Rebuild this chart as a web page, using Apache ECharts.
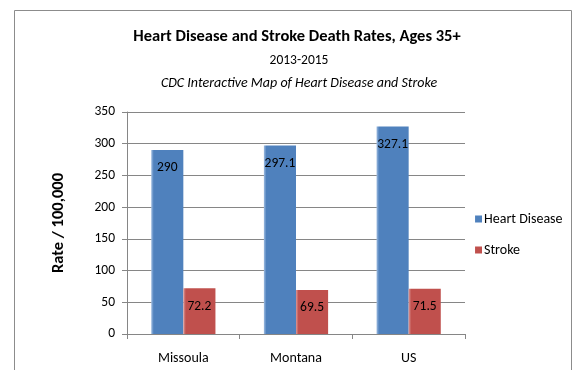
<!DOCTYPE html>
<html>
<head>
<meta charset="utf-8">
<script src="https://cdn.jsdelivr.net/npm/echarts@6/dist/echarts.min.js"></script>
<style>
  html, body { margin: 0; padding: 0; background: #fff; }
  #chart { width: 577px; height: 370px; }
</style>
</head>
<body>
<div id="chart"></div>
<script>
// Death rates per 100,000, ages 35+, 2013-2015
const categories = ['Missoula', 'Montana', 'US'];
const heartDisease = [290, 297.1, 327.1];
const stroke = [72.2, 69.5, 71.5];
const seriesNames = ['Heart Disease', 'Stroke'];

const FONT = 'Carlito, Lato, "Liberation Sans", sans-serif';

const chart = echarts.init(document.getElementById('chart'), null, { renderer: 'canvas' });

function barColor(base, light) {
  return new echarts.graphic.LinearGradient(0, 0, 1, 0, [
    { offset: 0, color: light },
    { offset: 0.08, color: base },
    { offset: 1, color: base }
  ]);
}

const labelStyle = {
  show: true,
  position: 'insideTop',
  distance: 11,
  color: '#000',
  fontFamily: FONT,
  fontSize: 13.5
};

chart.setOption({
  backgroundColor: '#fff',
  animation: false,
  textStyle: { fontFamily: FONT },
  graphic: [{
    type: 'rect',
    shape: { x: 14.5, y: 10.5, width: 557, height: 380 },
    style: { fill: 'none', stroke: '#8c8c8c', lineWidth: 1 },
    silent: true
  }],
  title: [
    {
      text: 'Heart Disease and Stroke Death Rates, Ages 35+',
      left: 292, top: 23, textAlign: 'center',
      textStyle: { fontFamily: FONT, fontSize: 16.5, fontWeight: 'bold', color: '#000' }
    },
    {
      text: '2013-2015',
      left: 294, top: 49, textAlign: 'center',
      textStyle: { fontFamily: FONT, fontSize: 13.5, fontWeight: 'normal', color: '#000' }
    },
    {
      text: 'CDC Interactive Map of Heart Disease and Stroke',
      left: 294, top: 71, textAlign: 'center',
      textStyle: { fontFamily: FONT, fontSize: 14, fontStyle: 'italic', fontWeight: 'normal', color: '#000' }
    }
  ],
  legend: {
    orient: 'vertical',
    left: 470, top: 207,
    itemWidth: 7, itemHeight: 7, itemGap: 17,
    icon: 'rect',
    data: seriesNames,
    textStyle: { fontFamily: FONT, fontSize: 14, color: '#000', padding: [0, 0, 0, -3] }
  },
  grid: { left: 127, right: 112, top: 112, bottom: 36 },
  xAxis: {
    type: 'category',
    data: categories,
    axisLine: { lineStyle: { color: '#868686' } },
    axisTick: { show: true, length: 5, lineStyle: { color: '#868686' } },
    axisLabel: { color: '#000', fontFamily: FONT, fontSize: 14, margin: 17 }
  },
  yAxis: {
    type: 'value',
    min: 0, max: 350, interval: 50,
    name: 'Rate / 100,000',
    nameLocation: 'middle',
    nameRotate: 90,
    nameGap: 60,
    nameTextStyle: { fontFamily: FONT, fontSize: 16.5, fontWeight: 'bold', color: '#000' },
    axisLine: { show: true, lineStyle: { color: '#868686' } },
    axisTick: { show: true, length: 5, lineStyle: { color: '#868686' } },
    splitLine: { lineStyle: { color: '#868686' } },
    axisLabel: { color: '#000', fontFamily: FONT, fontSize: 13.5, margin: 12 }
  },
  series: [
    {
      name: seriesNames[0],
      type: 'bar',
      data: heartDisease,
      barGap: '0%',
      barCategoryGap: '43%',
      itemStyle: { color: barColor('#4F81BD', '#9dbbe0') },
      label: labelStyle
    },
    {
      name: seriesNames[1],
      type: 'bar',
      data: stroke,
      itemStyle: { color: barColor('#C0504D', '#dc9896') },
      label: labelStyle
    }
  ]
});
</script>
</body>
</html>
